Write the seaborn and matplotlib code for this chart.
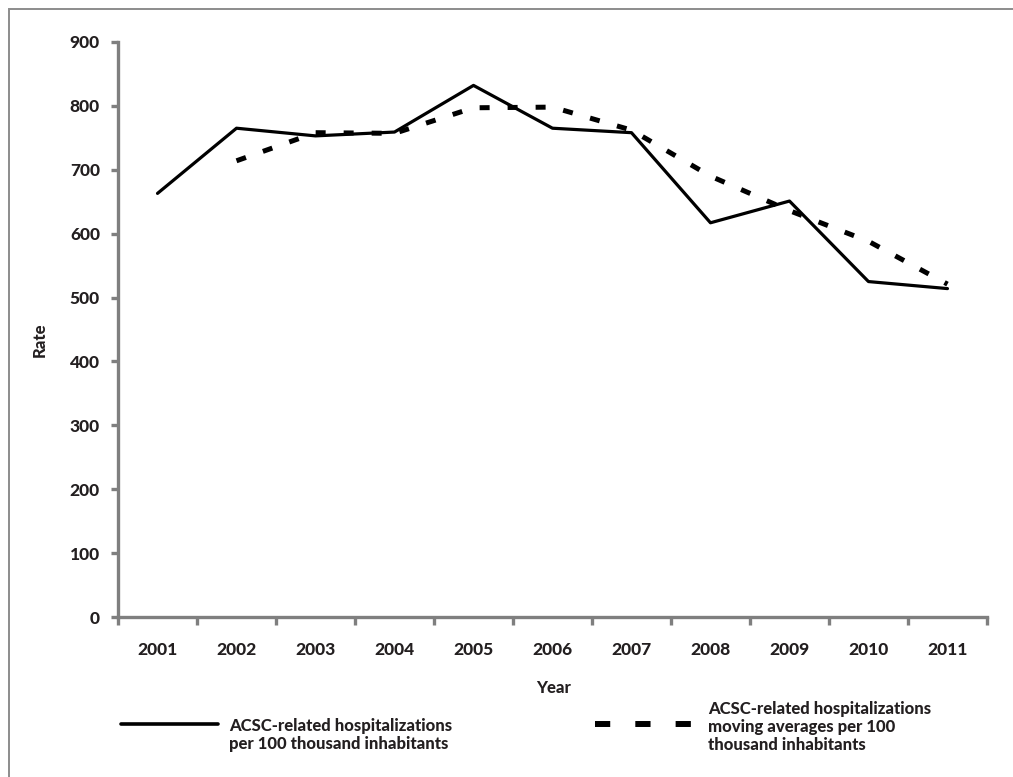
import matplotlib
matplotlib.use("Agg")
import matplotlib.pyplot as plt
from matplotlib.lines import Line2D
from matplotlib.patches import Rectangle
import seaborn as sns
import pandas as pd

# values
years = [2001, 2002, 2003, 2004, 2005, 2006, 2007, 2008, 2009, 2010, 2011]
rate = [663, 765, 753, 759, 832, 765, 758, 617, 651, 525, 514]
ma_years = [2002, 2003, 2004, 2005, 2006, 2007, 2008, 2009, 2010, 2011]
moving_avg = [714, 758, 757, 797, 798, 762, 690, 636, 588, 521]
y_ticks = [0, 100, 200, 300, 400, 500, 600, 700, 800, 900]

label_solid = "ACSC-related hospitalizations\nper 100 thousand inhabitants"
label_dash = "ACSC-related hospitalizations\nmoving averages per 100\nthousand inhabitants"

sns.set_style("white")
plt.rcParams['font.family'] = ['Lato', 'DejaVu Sans']
plt.rcParams['font.weight'] = 'black'

GRAY = "#7f7f7f"
INK = "#231f20"
FS = 12.5
WT = 'black'

df = pd.DataFrame({'Year': years, 'Rate': rate})
df_ma = pd.DataFrame({'Year': ma_years, 'Rate': moving_avg})

fig = plt.figure(figsize=(10.13, 7.77), dpi=100)
ax = fig.add_axes([0.1165, 0.2059, 0.8578, 0.7401])

sns.lineplot(data=df, x='Year', y='Rate', ax=ax, color='black', lw=2.3)
sns.lineplot(data=df_ma, x='Year', y='Rate', ax=ax, color='black', lw=3.6,
             linestyle=(0, (2.0, 3.6)), dash_capstyle='butt')

ax.set_xlim(2000.5, 2011.5)
ax.set_ylim(0, 900)
ax.set_yticks(y_ticks)
ax.set_xticks(years)
ax.set_xticks([y - 0.5 for y in years] + [2011.5], minor=True)

for s in ['top', 'right']:
    ax.spines[s].set_visible(False)
for s in ['left', 'bottom']:
    ax.spines[s].set_color(GRAY)
    ax.spines[s].set_linewidth(2.4)

ax.tick_params(axis='y', which='major', length=5, width=2.4, color=GRAY,
               pad=8, labelsize=FS, labelcolor=INK, left=True)
ax.tick_params(axis='x', which='major', length=0, pad=18, labelsize=FS, labelcolor=INK)
ax.tick_params(axis='x', which='minor', length=6, width=2.4, color=GRAY, bottom=True)
for lab in ax.get_xticklabels() + ax.get_yticklabels():
    lab.set_fontweight(WT)

ax.set_xlabel('')
ax.set_ylabel('')
fig.text(40 / 1013, 1 - 340 / 777, 'Rate', rotation=90, ha='center', va='center',
         fontsize=12, color=INK, fontweight=WT)
fig.text(554 / 1013, 1 - 688 / 777, 'Year', ha='center', va='center',
         fontsize=12, color=INK, fontweight=WT)

# legend drawn below the axes
W, H = 1013, 777
fig.add_artist(Line2D([121 / W, 218 / W], [1 - 724 / H] * 2, color='black', lw=2.6,
                      transform=fig.transFigure))
fig.text(229 / W, 1 - 735 / H, label_solid, ha='left', va='center', fontsize=12,
         color=INK, fontweight=WT, linespacing=1.15)
fig.add_artist(Line2D([595 / W, 693 / W], [1 - 724 / H] * 2, color='black', lw=4.3,
                      linestyle=(0, (2.55, 4.2)), dash_capstyle='butt',
                      transform=fig.transFigure))
fig.text(708 / W, 1 - 727 / H, label_dash, ha='left', va='center', fontsize=12,
         color=INK, fontweight=WT, linespacing=1.15)

# outer frame
fig.add_artist(Rectangle((9 / W, -0.1), 1.2, 1.1 - 9 / H, fill=False, edgecolor='#8c8c8c',
                         lw=1.4, transform=fig.transFigure))

fig.savefig('out.png', dpi=100)
